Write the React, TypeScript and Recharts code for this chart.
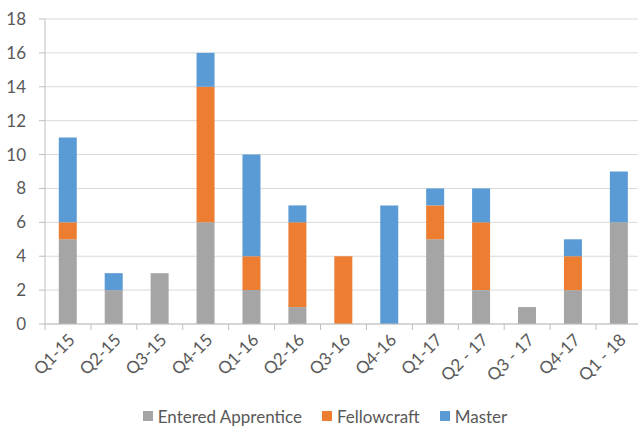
import { BarChart, Bar, XAxis, YAxis, CartesianGrid, Legend } from 'recharts'

const quarters = ['Q1-15', 'Q2-15', 'Q3-15', 'Q4-15', 'Q1-16', 'Q2-16', 'Q3-16', 'Q4-16', 'Q1-17', 'Q2 - 17', 'Q3 - 17', 'Q4-17', 'Q1 - 18']
const entered = [5, 2, 3, 6, 2, 1, 0, 0, 5, 2, 1, 2, 6]
const fellowcraft = [1, 0, 0, 8, 2, 5, 4, 0, 2, 4, 0, 2, 0]
const master = [5, 1, 0, 2, 6, 1, 0, 7, 1, 2, 0, 1, 3]
const yTicks = [0, 2, 4, 6, 8, 10, 12, 14, 16, 18]

const series = [
  { key: 'entered', name: 'Entered Apprentice', color: '#a5a5a5' },
  { key: 'fellowcraft', name: 'Fellowcraft', color: '#ed7d31' },
  { key: 'master', name: 'Master', color: '#5b9bd5' },
]

const data = quarters.map((q, i) => ({
  name: q,
  entered: entered[i],
  fellowcraft: fellowcraft[i],
  master: master[i],
}))

const CHART_W = 642
const Y_W = 45
const BAND = (CHART_W - Y_W) / quarters.length
const FONT = 'Lato, "Open Sans", sans-serif'
const TEXT = '#595959'
const AXIS = '#bfbfbf'

const XTick = (props: any) => {
  const { x, y, payload } = props
  const tx = x + 8
  const ty = y + 17
  return (
    <g>
      <line x1={x - BAND / 2} y1={y} x2={x - BAND / 2} y2={y + 6} stroke={AXIS} />
      <text
        x={tx}
        y={ty}
        textAnchor="end"
        transform={`rotate(-45, ${tx}, ${ty})`}
        fontSize={17}
        fontFamily={FONT}
        fill={TEXT}
      >
        {payload.value}
      </text>
    </g>
  )
}

const LegendContent = () => (
  <div style={{ display: 'flex', justifyContent: 'center', fontFamily: FONT, fontSize: 17, color: TEXT, height: 30, boxSizing: 'border-box', paddingTop: 6, alignItems: 'center', paddingLeft: 8 }}>
    {series.map((s) => (
      <div key={s.key} style={{ display: 'flex', alignItems: 'center', margin: '0 10px' }}>
        <span style={{ width: 10, height: 10, background: s.color, marginRight: 5, display: 'inline-block' }} />
        <span>{s.name}</span>
      </div>
    ))}
  </div>
)

export default function App() {
  return (
    <div style={{ position: 'absolute', left: 0, top: 0, width: 638, height: 428, overflow: 'hidden', background: '#fff' }}>
      <BarChart
        width={CHART_W}
        height={428}
        data={data}
        margin={{ top: 19, right: 0, bottom: 0, left: 0 }}
        barCategoryGap="30%"
      >
        <CartesianGrid vertical={false} stroke="#d9d9d9" />
        <XAxis
          dataKey="name"
          interval={0}
          height={74}
          tickLine={false}
          tickSize={0}
          tickMargin={0}
          stroke={AXIS}
          tick={<XTick />}
        />
        <YAxis
          width={Y_W}
          domain={[0, 18]}
          ticks={yTicks}
          interval={0}
          stroke={AXIS}
          tickSize={6}
          tickMargin={13}
          tick={{ fontSize: 17, fontFamily: FONT, fill: TEXT }}
        />
        <Legend verticalAlign="bottom" content={<LegendContent />} />
        {series.map((s) => (
          <Bar key={s.key} dataKey={s.key} name={s.name} stackId="a" fill={s.color} isAnimationActive={false} />
        ))}
      </BarChart>
    </div>
  )
}
